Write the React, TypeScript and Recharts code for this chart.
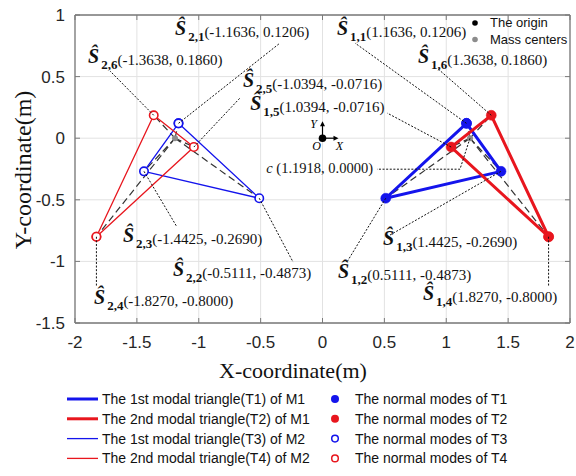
import React from 'react';
import { ScatterChart, Scatter, XAxis, YAxis, CartesianGrid, ReferenceLine, Customized } from 'recharts';

// ---------- data ----------
const xTicks = [-2, -1.5, -1, -0.5, 0, 0.5, 1, 1.5, 2];
const yTicks = [-1.5, -1, -0.5, 0, 0.5, 1];

// M1, 1st modal triangle (T1)
const t1Vertices = [
  { id: '1,1', x: 1.1636, y: 0.1206 },
  { id: '1,2', x: 0.5111, y: -0.4873 },
  { id: '1,3', x: 1.4425, y: -0.269 },
];
// M1, 2nd modal triangle (T2)
const t2Vertices = [
  { id: '1,4', x: 1.827, y: -0.8 },
  { id: '1,5', x: 1.0394, y: -0.0716 },
  { id: '1,6', x: 1.3638, y: 0.186 },
];
// M2, 1st modal triangle (T3)
const t3Vertices = [
  { id: '2,1', x: -1.1636, y: 0.1206 },
  { id: '2,2', x: -0.5111, y: -0.4873 },
  { id: '2,3', x: -1.4425, y: -0.269 },
];
// M2, 2nd modal triangle (T4)
const t4Vertices = [
  { id: '2,4', x: -1.827, y: -0.8 },
  { id: '2,5', x: -1.0394, y: -0.0716 },
  { id: '2,6', x: -1.3638, y: 0.186 },
];
const massCenters = [
  { x: 1.1918, y: 0.0 },
  { x: -1.1918, y: 0.0 },
];
const originPoint = [{ x: 0, y: 0 }];

const legendLineLabels = [
  'The 1st modal triangle(T1) of M1',
  'The 2nd modal triangle(T2) of M1',
  'The 1st modal triangle(T3) of M2',
  'The 2nd modal triangle(T4) of M2',
];
const legendModeLabels = [
  'The normal modes of T1',
  'The normal modes of T2',
  'The normal modes of T3',
  'The normal modes of T4',
];
const topLegendLabels = ['The origin', 'Mass centers'];

// ---------- styles / layout ----------
const BLUE = '#1414ec';
const RED = '#e8161e';
const AXIS = '#7a7a7a';
const SERIF = "'Liberation Serif', 'Times New Roman', serif";
const SANS = "'Liberation Sans', Arial, sans-serif";

const seriesStyles = [
  { color: BLUE, width: 3, filled: true },
  { color: RED, width: 3, filled: true },
  { color: BLUE, width: 1.3, filled: false },
  { color: RED, width: 1.3, filled: false },
];

// pixel offsets from each vertex: leader end (lx, ly) and label start (tx, ty)
const labelLayout: Record<string, { lx: number; ly: number; tx: number; ty: number }> = {
  '1,1': { lx: -111.5, ly: -80.3, tx: -129.5, ty: -86.3 },
  '1,2': { lx: -38.8, ly: 63.8, tx: -47.8, ty: 81.8 },
  '1,3': { lx: -111, ly: 63.7, tx: -118, ty: 75.7 },
  '1,4': { lx: 0, ly: 50, tx: -125.6, ty: 65.2 },
  '1,5': { lx: -64, ly: -34, tx: -201, ty: -35 },
  '1,6': { lx: -54.3, ly: -47.3, tx: -73.3, ty: -50.3 },
  '2,1': { lx: 101.5, ly: -80.3, tx: -3.5, ty: -86.3 },
  '2,2': { lx: 33.8, ly: 63.8, tx: -86.3, ty: 79.8 },
  '2,3': { lx: 33, ly: 55.7, tx: -21, ty: 72.7 },
  '2,4': { lx: 0, ly: 50.2, tx: -2.4, ty: 69.2 },
  '2,5': { lx: 46.1, ly: -49, tx: 49.1, ty: -58 },
  '2,6': { lx: -43.7, ly: -44.3, tx: -65.7, ty: -50.3 },
};

const closed = (v: any[]) => [...v, v[0]];
const fmt = (n: number) => n.toFixed(4);

const groups = [
  { vertices: t1Vertices, center: massCenters[0] },
  { vertices: t2Vertices, center: massCenters[0] },
  { vertices: t3Vertices, center: massCenters[1] },
  { vertices: t4Vertices, center: massCenters[1] },
];

const makeMarker = (style: { color: string; filled: boolean }) => (props: any) => {
  const { cx, cy } = props;
  if (cx == null || cy == null) return <g />;
  return style.filled ? (
    <circle cx={cx} cy={cy} r={5} fill={style.color} stroke={style.color} strokeWidth={0.5} />
  ) : (
    <circle cx={cx} cy={cy} r={4.2} fill="#ffffff" stroke={style.color} strokeWidth={1.6} />
  );
};

const AnnotationShape = (props: any) => {
  const { cx, cy, payload } = props;
  if (cx == null || cy == null) return <g />;
  const L = labelLayout[payload.id];
  return (
    <g>
      <line
        x1={cx}
        y1={cy}
        x2={cx + L.lx}
        y2={cy + L.ly}
        stroke="#111"
        strokeWidth={1}
        strokeDasharray="2 1.6"
      />
      <text x={cx + L.tx} y={cy + L.ty} fontFamily={SERIF} fill="#111">
        <tspan fontSize={20} fontWeight="bold" fontStyle="italic" dy={-2}>
          Ŝ
        </tspan>
        <tspan fontSize={13} fontWeight="bold" dx={2} dy={6}>
          {payload.id}
        </tspan>
        <tspan fontSize={15} dy={-4}>{`(${fmt(payload.x)}, ${fmt(payload.y)})`}</tspan>
      </text>
    </g>
  );
};

const CenterLabelShape = (props: any) => {
  const { cx, cy, payload } = props;
  if (cx == null || cy == null) return <g />;
  return (
    <g>
      <polyline
        points={`${cx},${cy} ${cx - 10},${cy + 31} ${cx - 93},${cy + 31}`}
        fill="none"
        stroke="#111"
        strokeWidth={1}
        strokeDasharray="2 1.6"
      />
      <text x={cx - 97} y={cy + 35} textAnchor="end" fontFamily={SERIF} fontSize={14.5} fill="#111">
        <tspan fontStyle="italic">c</tspan>
        <tspan>{` (${fmt(payload.x)}, ${fmt(payload.y)})`}</tspan>
      </text>
    </g>
  );
};

const MassCenterShape = (props: any) => {
  const { cx, cy } = props;
  if (cx == null || cy == null) return <g />;
  return <circle cx={cx} cy={cy} r={3} fill="#8c8c8c" />;
};

const OriginShape = (props: any) => {
  const { cx, cy } = props;
  if (cx == null || cy == null) return <g />;
  return (
    <g>
      <line x1={cx} y1={cy} x2={cx} y2={cy - 13} stroke="#000" strokeWidth={1.2} />
      <polygon points={`${cx - 2.5},${cy - 12} ${cx + 2.5},${cy - 12} ${cx},${cy - 17}`} fill="#000" />
      <line x1={cx} y1={cy} x2={cx + 12} y2={cy} stroke="#000" strokeWidth={1.2} />
      <polygon points={`${cx + 11},${cy - 2.5} ${cx + 11},${cy + 2.5} ${cx + 16},${cy}`} fill="#000" />
      <circle cx={cx} cy={cy} r={3.8} fill="#000" />
      <text x={cx - 9} y={cy - 10} textAnchor="middle" fontFamily={SERIF} fontStyle="italic" fontSize={12}>
        Y
      </text>
      <text x={cx - 6} y={cy + 12} textAnchor="middle" fontFamily={SERIF} fontStyle="italic" fontSize={12}>
        O
      </text>
      <text x={cx + 17} y={cy + 12} textAnchor="middle" fontFamily={SERIF} fontStyle="italic" fontSize={12}>
        X
      </text>
    </g>
  );
};

const innerTicks = (p: any) => {
  const { x1, y1, x2, y2 } = p;
  const dx = Math.sign(x2 - x1) * 5;
  const dy = Math.sign(y2 - y1) * 5;
  return (
    <g stroke={AXIS} strokeWidth={1}>
      <line x1={x1} y1={y1} x2={x1 + dx} y2={y1 + dy} />
      <line x1={x2} y1={y2} x2={x2 - dx} y2={y2 - dy} />
    </g>
  );
};

const Overlays = () => (
  <g>
    {/* axis titles */}
    <text x={293} y={378} textAnchor="middle" fontFamily={SERIF} fontSize={22} fill="#111">
      X-coordinate(m)
    </text>
    <text
      x={31}
      y={170}
      textAnchor="middle"
      fontFamily={SERIF}
      fontSize={24}
      fill="#111"
      transform="rotate(-90, 31, 170)"
    >
      Y-coordinate(m)
    </text>
    {/* top-right legend */}
    <circle cx={475} cy={23} r={2.8} fill="#000" />
    <text x={490} y={27} fontFamily={SANS} fontSize={13} fill="#111">
      {topLegendLabels[0]}
    </text>
    <circle cx={475} cy={39.5} r={2.8} fill="#8c8c8c" />
    <text x={490} y={44} fontFamily={SANS} fontSize={13} fill="#111">
      {topLegendLabels[1]}
    </text>
    {/* bottom legend */}
    {legendLineLabels.map((lab, i) => {
      const st = seriesStyles[i];
      const y = 399 + i * 19.8;
      return (
        <g key={lab}>
          <line x1={67} y1={y} x2={98} y2={y} stroke={st.color} strokeWidth={st.width} />
          <text x={102} y={y + 5} fontFamily={SANS} fontSize={14} fill="#111">
            {lab}
          </text>
          {st.filled ? (
            <circle cx={335} cy={y} r={4} fill={st.color} />
          ) : (
            <circle cx={335} cy={y} r={3.3} fill="#fff" stroke={st.color} strokeWidth={1.5} />
          )}
          <text x={355} y={y + 5} fontFamily={SANS} fontSize={14} fill="#111">
            {legendModeLabels[i]}
          </text>
        </g>
      );
    })}
  </g>
);

export default function App() {
  return (
    <div style={{ position: 'absolute', left: 0, top: 0, background: '#fff' }}>
      <ScatterChart width={576} height={476} margin={{ top: 15, right: 6, bottom: 123, left: 15 }}>
        <CartesianGrid stroke="#e2e2e2" strokeWidth={1} />
        <XAxis
          type="number"
          dataKey="x"
          domain={[-2, 2]}
          ticks={xTicks}
          allowDataOverflow
          height={30}
          tickLine={false}
          tickSize={6}
          tickMargin={7}
          axisLine={{ stroke: AXIS, strokeWidth: 1.3 }}
          tick={{ fontSize: 17, fill: '#262626', fontFamily: SANS }}
          tickFormatter={(v: number) => String(v)}
        />
        <YAxis
          type="number"
          dataKey="y"
          domain={[-1.5, 1]}
          ticks={yTicks}
          allowDataOverflow
          width={60}
          tickLine={false}
          tickSize={6}
          tickMargin={4}
          axisLine={{ stroke: AXIS, strokeWidth: 1.3 }}
          tick={{ fontSize: 17, fill: '#262626', fontFamily: SANS }}
          tickFormatter={(v: number) => String(v)}
        />
        {/* box border */}
        <ReferenceLine y={yTicks[yTicks.length - 1]} stroke={AXIS} strokeWidth={1.3} />
        <ReferenceLine x={xTicks[xTicks.length - 1]} stroke={AXIS} strokeWidth={1.3} />
        {/* inner ticks */}
        {xTicks.map((t) => (
          <ReferenceLine key={'xt' + t} x={t} stroke={AXIS} shape={innerTicks} />
        ))}
        {yTicks.map((t) => (
          <ReferenceLine key={'yt' + t} y={t} stroke={AXIS} shape={innerTicks} />
        ))}
        {/* dashed lines from mass centers to vertices */}
        {groups.flatMap((g, gi) =>
          g.vertices.map((v) => (
            <ReferenceLine
              key={'d' + gi + v.id}
              segment={[
                { x: g.center.x, y: g.center.y },
                { x: v.x, y: v.y },
              ]}
              stroke="#333"
              strokeWidth={1.2}
              strokeDasharray="7 4"
            />
          ))
        )}
        {/* triangles (M2 thin ones then M1 thick) */}
        {[2, 3, 0, 1].map((gi) => (
          <Scatter
            key={'tri' + gi}
            data={closed(groups[gi].vertices)}
            line={{ stroke: seriesStyles[gi].color, strokeWidth: seriesStyles[gi].width }}
            lineType="joint"
            fill={seriesStyles[gi].color}
            shape={makeMarker(seriesStyles[gi])}
            isAnimationActive={false}
          />
        ))}
        <Scatter data={massCenters} shape={MassCenterShape} isAnimationActive={false} />
        <Scatter data={originPoint} shape={OriginShape} isAnimationActive={false} />
        <Scatter
          data={[...t1Vertices, ...t2Vertices, ...t3Vertices, ...t4Vertices]}
          shape={AnnotationShape}
          isAnimationActive={false}
        />
        <Scatter data={[massCenters[0]]} shape={CenterLabelShape} isAnimationActive={false} />
        <Customized component={Overlays} />
      </ScatterChart>
    </div>
  );
}
